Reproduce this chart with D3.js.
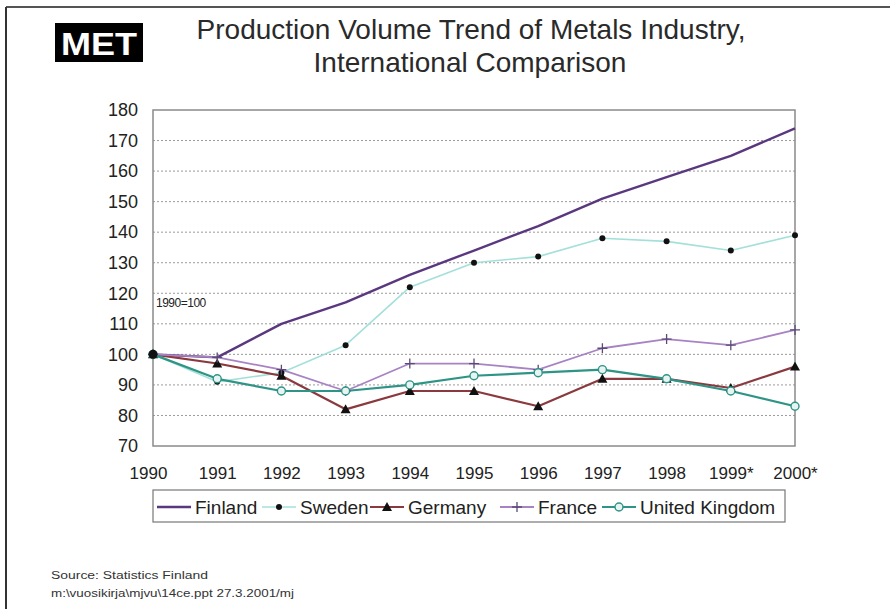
<!DOCTYPE html>
<html>
<head>
<meta charset="utf-8">
<script src="https://cdn.jsdelivr.net/npm/d3@7"></script>
<style>
  html, body { margin: 0; padding: 0; background: #fff; }
  svg { display: block; font-family: "Liberation Sans", Arial, sans-serif; }
</style>
</head>
<body>
<svg id="chart" width="890" height="609"></svg>
<script>
// Index of production volume, 1990 = 100
const years = ["1990", "1991", "1992", "1993", "1994", "1995", "1996", "1997", "1998", "1999*", "2000*"];
const finland = [100, 99, 110, 117, 126, 134, 142, 151, 158, 165, 174];
const sweden  = [100, 91, 94, 103, 122, 130, 132, 138, 137, 134, 139];
const germany = [100, 97, 93, 82, 88, 88, 83, 92, 92, 89, 96];
const france  = [100, 99, 95, 88, 97, 97, 95, 102, 105, 103, 108];
const uk      = [100, 92, 88, 88, 90, 93, 94, 95, 92, 88, 83];
const seriesNames = ["Finland", "Sweden", "Germany", "France", "United Kingdom"];
const yTicks = [70, 80, 90, 100, 110, 120, 130, 140, 150, 160, 170, 180];

const series = [
  { name: seriesNames[0], values: finland, color: "#5a3880", width: 2.4, marker: "none" },
  { name: seriesNames[1], values: sweden,  color: "#a4e0da", width: 1.6, marker: "dot" },
  { name: seriesNames[2], values: germany, color: "#8a3a3e", width: 2.2, marker: "triangle" },
  { name: seriesNames[3], values: france,  color: "#a883c4", width: 1.8, marker: "plus" },
  { name: seriesNames[4], values: uk,      color: "#2e9486", width: 2.2, marker: "ring" }
];

const svg = d3.select("#chart");
const plot = { left: 153, right: 795, top: 110, bottom: 446 };
const FONT = "'Liberation Sans', Arial, sans-serif";

// Page frame
svg.append("line").attr("x1", 6).attr("x2", 890).attr("y1", 7).attr("y2", 7)
  .attr("stroke", "#555").attr("stroke-width", 2);
svg.append("line").attr("x1", 6).attr("x2", 6).attr("y1", 7).attr("y2", 609)
  .attr("stroke", "#333").attr("stroke-width", 2);

// Logo
svg.append("rect").attr("x", 55).attr("y", 23).attr("width", 88).attr("height", 39).attr("fill", "#000");
svg.append("text").attr("x", 99).attr("y", 55).attr("text-anchor", "middle")
  .attr("fill", "#fff").attr("font-size", 32).attr("font-weight", "bold")
  .attr("textLength", 76).attr("lengthAdjust", "spacingAndGlyphs").text("MET");

// Title
const title = svg.append("text").attr("text-anchor", "middle").attr("font-size", 28).attr("fill", "#2a2a2a");
title.append("tspan").attr("x", 471).attr("y", 39).text("Production Volume Trend of Metals Industry,");
title.append("tspan").attr("x", 470).attr("y", 72).text("International Comparison");

const x = d3.scalePoint().domain(years).range([plot.left, plot.right]);
const y = d3.scaleLinear().domain([70, 180]).range([plot.bottom, plot.top]);

// Grid lines
svg.append("g").selectAll("line").data(yTicks.filter(t => t > 70 && t < 180)).join("line")
  .attr("x1", plot.left).attr("x2", plot.right)
  .attr("y1", d => y(d)).attr("y2", d => y(d))
  .attr("stroke", "#9a9a9a").attr("stroke-width", 1).attr("stroke-dasharray", "2,2");

// Plot border
svg.append("rect").attr("x", plot.left).attr("y", plot.top)
  .attr("width", plot.right - plot.left).attr("height", plot.bottom - plot.top)
  .attr("fill", "none").attr("stroke", "#8a8a8a").attr("stroke-width", 1.5);

// Axes (labels only)
const yAxis = svg.append("g").attr("transform", `translate(${plot.left},0)`)
  .call(d3.axisLeft(y).tickValues(yTicks).tickSize(0).tickPadding(15));
yAxis.select(".domain").remove();
yAxis.selectAll("text").attr("font-size", 18).attr("fill", "#222").attr("font-family", FONT);

const xAxis = svg.append("g").attr("transform", `translate(0,${plot.bottom})`)
  .call(d3.axisBottom(x).tickSize(0).tickPadding(21));
xAxis.select(".domain").remove();
xAxis.selectAll("text").attr("font-size", 17).attr("fill", "#222").attr("font-family", FONT)
  .attr("dx", d => d === "1990" ? -5 : 0);

svg.append("text").attr("x", 156).attr("y", 307).attr("font-size", 12).attr("fill", "#222")
  .attr("letter-spacing", -0.5).text("1990=100");

// Series lines
const line = d3.line().x((d, i) => x(years[i])).y(d => y(d));
svg.append("g").selectAll("path").data(series).join("path")
  .attr("d", s => line(s.values))
  .attr("fill", "none").attr("stroke", s => s.color).attr("stroke-width", s => s.width)
  .attr("stroke-linejoin", "round");

function drawMarker(g, type, cx, cy, color) {
  if (type === "dot") {
    g.append("circle").attr("cx", cx).attr("cy", cy).attr("r", 3).attr("fill", "#111");
  } else if (type === "triangle") {
    const s = 5;
    g.append("path").attr("d", `M${cx},${cy - s}L${cx + s},${cy + s * 0.8}L${cx - s},${cy + s * 0.8}Z`)
      .attr("fill", "#111");
  } else if (type === "plus") {
    g.append("path").attr("d", `M${cx - 5},${cy}H${cx + 5}M${cx},${cy - 5}V${cy + 5}`)
      .attr("stroke", "#5b4a78").attr("stroke-width", 1.3);
  } else if (type === "ring") {
    g.append("circle").attr("cx", cx).attr("cy", cy).attr("r", 4)
      .attr("fill", "#e8f4f2").attr("stroke", color).attr("stroke-width", 1.4);
  }
}

const markers = svg.append("g");
series.forEach(s => {
  s.values.forEach((v, i) => drawMarker(markers, s.marker, x(years[i]), y(v), s.color));
});
// Common starting point
markers.append("circle").attr("cx", x(years[0])).attr("cy", y(finland[0])).attr("r", 4.5).attr("fill", "#111");

// Legend
const legend = svg.append("g");
legend.append("rect").attr("x", 153).attr("y", 490).attr("width", 632).attr("height", 32)
  .attr("fill", "#fff").attr("stroke", "#777").attr("stroke-width", 1.2);
const legendX = [157, 262, 370, 500, 602];
series.forEach((s, i) => {
  const lx = legendX[i], ly = 507;
  legend.append("line").attr("x1", lx).attr("x2", lx + 34).attr("y1", ly).attr("y2", ly)
    .attr("stroke", s.color).attr("stroke-width", s.width);
  drawMarker(legend, s.marker, lx + 17, ly, s.color);
  legend.append("text").attr("x", lx + 38).attr("y", ly + 7).attr("font-size", 19).attr("fill", "#222")
    .attr("font-family", FONT).text(s.name);
});

// Footnotes
svg.append("text").attr("x", 51).attr("y", 579).attr("font-size", 10).attr("fill", "#333")
  .attr("textLength", 157).attr("lengthAdjust", "spacingAndGlyphs")
  .text("Source: Statistics Finland");
svg.append("text").attr("x", 51).attr("y", 597).attr("font-size", 10).attr("fill", "#333")
  .attr("textLength", 243).attr("lengthAdjust", "spacingAndGlyphs")
  .text("m:\\vuosikirja\\mjvu\\14ce.ppt  27.3.2001/mj");
</script>
</body>
</html>
